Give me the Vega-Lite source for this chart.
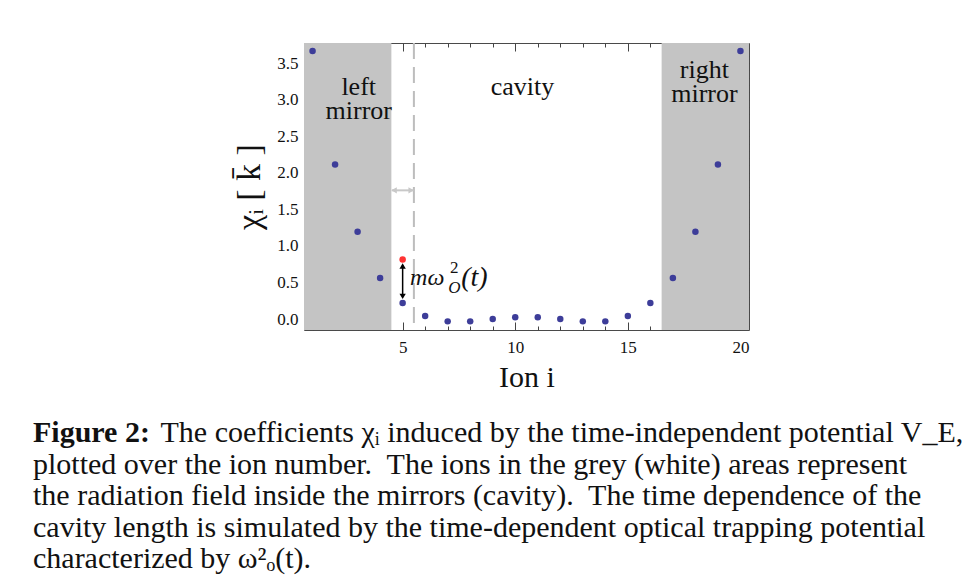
{
  "$schema": "https://vega.github.io/schema/vega-lite/v6.json",
  "width": 445,
  "height": 287,
  "autosize": "none",
  "padding": {"left": 304, "top": 43, "right": 231, "bottom": 255},
  "background": "white",
  "config": {
    "font": "Liberation Serif",
    "view": {"stroke": "#4a4a4a", "strokeWidth": 1},
    "axis": {"domain": false, "grid": false, "labelFont": "Liberation Serif", "titleFont": "Liberation Serif", "labelColor": "#111", "tickColor": "#444", "labelFontSize": 17, "titleColor": "#111", "titleFontWeight": "normal", "labelOverlap": false, "labelFlush": false, "labelBound": false}
  },
  "title": {
    "text": "Figure 2:",
    "subtitle": [
      "\u200b\u00a0\u00a0\u00a0\u00a0\u00a0\u00a0\u00a0\u00a0\u00a0\u00a0\u00a0\u00a0\u00a0\u00a0\u00a0\u00a0\u00a0The coefficients χᵢ induced by the time-independent potential V_E,",
      "plotted over the ion number.\u00a0 The ions in the grey (white) areas represent",
      "the radiation field inside the mirrors (cavity).\u00a0 The time dependence of the",
      "cavity length is simulated by the time-dependent optical trapping potential",
      "characterized by ω²ₒ(t)."
    ],
    "orient": "bottom",
    "anchor": "start",
    "frame": "group",
    "dx": -271,
    "offset": 26,
    "font": "Liberation Serif",
    "fontSize": 30,
    "fontWeight": "bold",
    "color": "#111",
    "subtitleFont": "Liberation Serif",
    "subtitleFontSize": 30,
    "subtitleColor": "#111",
    "subtitleLineHeight": 31.5,
    "subtitlePadding": -30
  },
  "resolve": {"axis": {"x": "independent", "y": "independent"}},
  "datasets": {
    "ions": [
      {"i": 1, "chi": 3.665}, {"i": 2, "chi": 2.113}, {"i": 3, "chi": 1.193}, {"i": 4, "chi": 0.56},
      {"i": 5, "chi": 0.219}, {"i": 6, "chi": 0.041}, {"i": 7, "chi": -0.032}, {"i": 8, "chi": -0.032},
      {"i": 9, "chi": 0.0}, {"i": 10, "chi": 0.023}, {"i": 11, "chi": 0.023}, {"i": 12, "chi": 0.0},
      {"i": 13, "chi": -0.032}, {"i": 14, "chi": -0.032}, {"i": 15, "chi": 0.041}, {"i": 16, "chi": 0.219},
      {"i": 17, "chi": 0.56}, {"i": 18, "chi": 1.193}, {"i": 19, "chi": 2.113}, {"i": 20, "chi": 3.665}
    ]
  },
  "layer": [
    {
      "data": {"values": [
        {"x0": 0.62, "x1": 4.5, "y0": -0.15, "y1": 3.775},
        {"x0": 16.5, "x1": 20.38, "y0": -0.15, "y1": 3.775}
      ]},
      "mark": {"type": "rect", "color": "#c4c4c4"},
      "encoding": {
        "x": {"field": "x0", "type": "quantitative", "scale": {"domain": [0.62, 20.38], "nice": false, "zero": false},
          "axis": {"orient": "top", "values": [1,2,3,4,5,6,7,8,9,10,11,12,13,14,15,16,17,18,19,20], "labels": false, "title": null,
            "tickSize": {"condition": {"test": "datum.value % 5 === 0", "value": -8}, "value": -4}}},
        "x2": {"field": "x1"},
        "y": {"field": "y0", "type": "quantitative", "scale": {"domain": [-0.15, 3.775], "nice": false, "zero": false},
          "axis": {"orient": "right", "values": [-0.1,0,0.1,0.2,0.3,0.4,0.5,0.6,0.7,0.8,0.9,1,1.1,1.2,1.3,1.4,1.5,1.6,1.7,1.8,1.9,2,2.1,2.2,2.3,2.4,2.5,2.6,2.7,2.8,2.9,3,3.1,3.2,3.3,3.4,3.5,3.6,3.7], "labels": false, "title": null,
            "tickSize": {"condition": {"test": "abs(datum.value*2-round(datum.value*2))<0.001", "value": -8}, "value": -4}}},
        "y2": {"field": "y1"}
      }
    },
    {
      "data": {"values": [{"x": 5.5}]},
      "mark": {"type": "rule", "color": "#bdbdbd", "strokeWidth": 2, "strokeDash": [16, 8]},
      "encoding": {
        "x": {"field": "x", "type": "quantitative", "scale": {"domain": [0.62, 20.38], "nice": false, "zero": false}, "axis": null}
      }
    },
    {
      "data": {"values": [{"x": 4.52, "x2": 5.48, "y": 1.76}]},
      "mark": {"type": "rule", "color": "#c8c8c8", "strokeWidth": 2},
      "encoding": {
        "x": {"field": "x", "type": "quantitative", "scale": {"domain": [0.62, 20.38], "nice": false, "zero": false}, "axis": null},
        "x2": {"field": "x2"},
        "y": {"field": "y", "type": "quantitative", "scale": {"domain": [-0.15, 3.775], "nice": false, "zero": false}, "axis": null}
      }
    },
    {
      "data": {"values": [
        {"x": 4.62, "y": 1.76, "s": "triangle-left"},
        {"x": 5.38, "y": 1.76, "s": "triangle-right"}
      ]},
      "mark": {"type": "point", "filled": true, "color": "#c8c8c8", "size": 40, "opacity": 1},
      "encoding": {
        "x": {"field": "x", "type": "quantitative", "scale": {"domain": [0.62, 20.38], "nice": false, "zero": false}, "axis": null},
        "y": {"field": "y", "type": "quantitative", "scale": {"domain": [-0.15, 3.775], "nice": false, "zero": false}, "axis": null},
        "shape": {"field": "s", "type": "nominal", "scale": null, "legend": null}
      }
    },
    {
      "data": {"values": [{"x": 5, "y": 0.74, "y2": 0.3}]},
      "mark": {"type": "rule", "color": "#000", "strokeWidth": 1.5},
      "encoding": {
        "x": {"field": "x", "type": "quantitative", "scale": {"domain": [0.62, 20.38], "nice": false, "zero": false}, "axis": null},
        "y": {"field": "y", "type": "quantitative", "scale": {"domain": [-0.15, 3.775], "nice": false, "zero": false}, "axis": null},
        "y2": {"field": "y2"}
      }
    },
    {
      "data": {"values": [
        {"x": 5, "y": 0.725, "s": "triangle-up"},
        {"x": 5, "y": 0.31, "s": "triangle-down"}
      ]},
      "mark": {"type": "point", "filled": true, "color": "#000", "size": 40, "opacity": 1},
      "encoding": {
        "x": {"field": "x", "type": "quantitative", "scale": {"domain": [0.62, 20.38], "nice": false, "zero": false}, "axis": null},
        "y": {"field": "y", "type": "quantitative", "scale": {"domain": [-0.15, 3.775], "nice": false, "zero": false}, "axis": null},
        "shape": {"field": "s", "type": "nominal", "scale": null, "legend": null}
      }
    },
    {
      "data": {"name": "ions"},
      "mark": {"type": "circle", "color": "#3d3d99", "size": 42, "opacity": 1},
      "encoding": {
        "x": {"field": "i", "type": "quantitative", "scale": {"domain": [0.62, 20.38], "nice": false, "zero": false},
          "axis": {"orient": "bottom", "values": [1,2,3,4,5,6,7,8,9,10,11,12,13,14,15,16,17,18,19,20],
            "labelExpr": "datum.value % 5 === 0 ? format(datum.value, 'd') : ''",
            "tickSize": {"condition": {"test": "datum.value % 5 === 0", "value": -8}, "value": -4},
            "labelPadding": 17, "title": "Ion i", "titleFontSize": 30, "titlePadding": 3}},
        "y": {"field": "chi", "type": "quantitative", "scale": {"domain": [-0.15, 3.775], "nice": false, "zero": false},
          "axis": {"orient": "left", "values": [-0.1,0,0.1,0.2,0.3,0.4,0.5,0.6,0.7,0.8,0.9,1,1.1,1.2,1.3,1.4,1.5,1.6,1.7,1.8,1.9,2,2.1,2.2,2.3,2.4,2.5,2.6,2.7,2.8,2.9,3,3.1,3.2,3.3,3.4,3.5,3.6,3.7],
            "labelExpr": "abs(datum.value*2-round(datum.value*2))<0.001 ? format(datum.value, '.1f') : ''",
            "tickSize": {"condition": {"test": "abs(datum.value*2-round(datum.value*2))<0.001", "value": -8}, "value": -4},
            "labelPadding": 14, "title": "χᵢ [ k̄ ]", "titleFontSize": 34, "titlePadding": 10}}
      }
    },
    {
      "data": {"values": [{"i": 5, "chi": 0.815}]},
      "mark": {"type": "circle", "color": "#ff3333", "size": 42, "opacity": 1},
      "encoding": {
        "x": {"field": "i", "type": "quantitative", "scale": {"domain": [0.62, 20.38], "nice": false, "zero": false}, "axis": null},
        "y": {"field": "chi", "type": "quantitative", "scale": {"domain": [-0.15, 3.775], "nice": false, "zero": false}, "axis": null}
      }
    },
    {
      "data": {"values": [
        {"x": 3.05, "y": 3.06, "t": "left\nmirror"},
        {"x": 10.32, "y": 3.07, "t": "cavity"},
        {"x": 18.4, "y": 3.29, "t": "right\nmirror"}
      ]},
      "mark": {"type": "text", "fontSize": 26, "lineBreak": "\n", "lineHeight": 24, "align": "center", "baseline": "alphabetic", "color": "#111"},
      "encoding": {
        "x": {"field": "x", "type": "quantitative", "scale": {"domain": [0.62, 20.38], "nice": false, "zero": false}, "axis": null},
        "y": {"field": "y", "type": "quantitative", "scale": {"domain": [-0.15, 3.775], "nice": false, "zero": false}, "axis": null},
        "text": {"field": "t"}
      }
    },
    {
      "data": {"values": [{"x": 5.33, "y": 0.464, "t": "mω"}]},
      "mark": {"type": "text", "fontSize": 24, "fontStyle": "italic", "align": "left", "baseline": "alphabetic", "color": "#111"},
      "encoding": {
        "x": {"field": "x", "type": "quantitative", "scale": {"domain": [0.62, 20.38], "nice": false, "zero": false}, "axis": null},
        "y": {"field": "y", "type": "quantitative", "scale": {"domain": [-0.15, 3.775], "nice": false, "zero": false}, "axis": null},
        "text": {"field": "t"}
      }
    },
    {
      "data": {"values": [{"x": 7.6, "y": 0.45, "t": "(t)"}]},
      "mark": {"type": "text", "fontSize": 28, "fontStyle": "italic", "align": "left", "baseline": "alphabetic", "color": "#111"},
      "encoding": {
        "x": {"field": "x", "type": "quantitative", "scale": {"domain": [0.62, 20.38], "nice": false, "zero": false}, "axis": null},
        "y": {"field": "y", "type": "quantitative", "scale": {"domain": [-0.15, 3.775], "nice": false, "zero": false}, "axis": null},
        "text": {"field": "t"}
      }
    },
    {
      "data": {"values": [{"x": 7.1, "y": 0.628, "t": "2"}]},
      "mark": {"type": "text", "fontSize": 17, "align": "left", "baseline": "alphabetic", "color": "#111"},
      "encoding": {
        "x": {"field": "x", "type": "quantitative", "scale": {"domain": [0.62, 20.38], "nice": false, "zero": false}, "axis": null},
        "y": {"field": "y", "type": "quantitative", "scale": {"domain": [-0.15, 3.775], "nice": false, "zero": false}, "axis": null},
        "text": {"field": "t"}
      }
    },
    {
      "data": {"values": [{"x": 7.02, "y": 0.355, "t": "O"}]},
      "mark": {"type": "text", "fontSize": 17, "fontStyle": "italic", "align": "left", "baseline": "alphabetic", "color": "#111"},
      "encoding": {
        "x": {"field": "x", "type": "quantitative", "scale": {"domain": [0.62, 20.38], "nice": false, "zero": false}, "axis": null},
        "y": {"field": "y", "type": "quantitative", "scale": {"domain": [-0.15, 3.775], "nice": false, "zero": false}, "axis": null},
        "text": {"field": "t"}
      }
    }
  ]
}
